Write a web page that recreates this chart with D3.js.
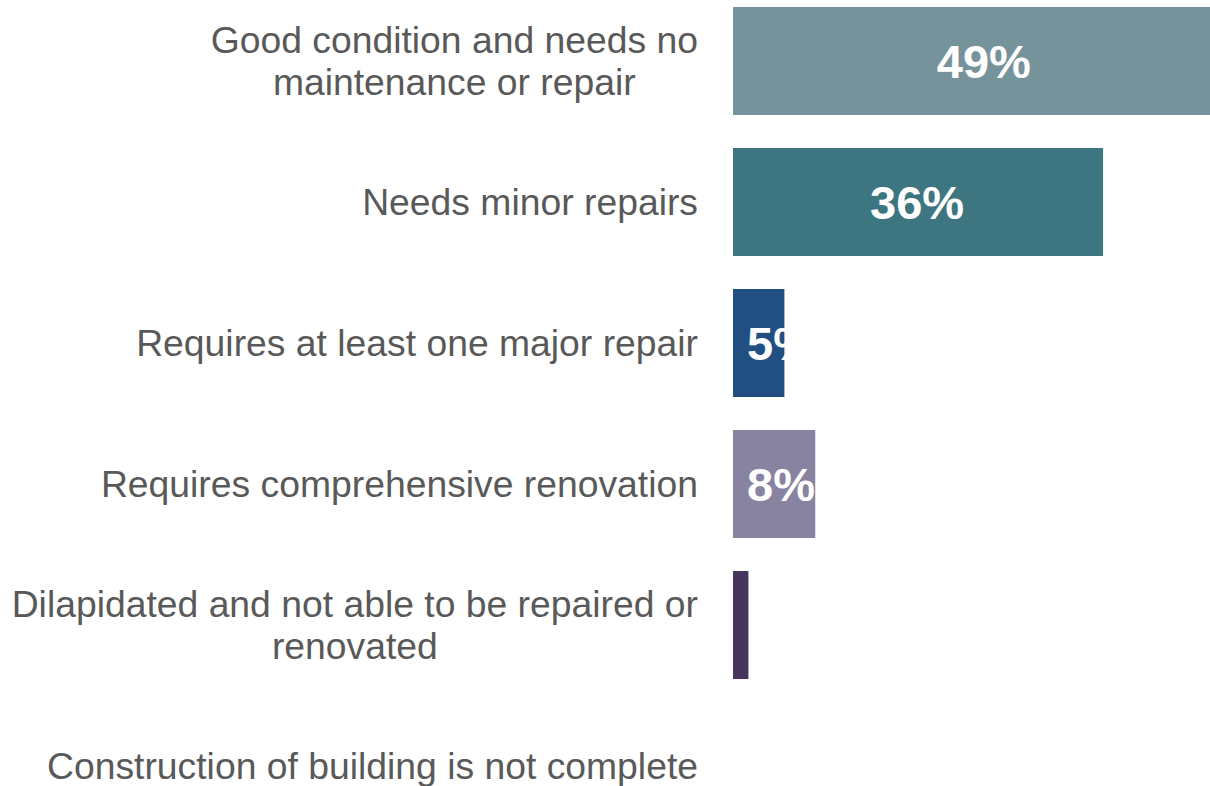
<!DOCTYPE html>
<html>
<head>
<meta charset="utf-8">
<script src="https://cdn.jsdelivr.net/npm/d3@7"></script>
<style>
  html, body { margin: 0; padding: 0; background: #ffffff; }
  svg { display: block; }
</style>
</head>
<body>
<svg id="chart" width="1210" height="786"></svg>
<script>
// Building condition, share of responses
const categories = [
  "Good condition and needs no maintenance or repair",
  "Needs minor repairs",
  "Requires at least one major repair",
  "Requires comprehensive renovation",
  "Dilapidated and not able to be repaired or renovated",
  "Construction of building is not complete"
];
const values = [49, 36, 5, 8, 1.5, 0];
const showValue = [true, true, true, true, false, false];
const colors = ["#76939c", "#3d7680", "#214f81", "#8883a0", "#47355e", "#8a8a8a"];

const width = 1210, height = 786;
const barLeft = 733;
const labelRight = 698;
const wrapWidth = 700;

const svg = d3.select("#chart");

const x = d3.scaleLinear()
  .domain([0, 50])
  .range([barLeft, barLeft + 514]);

const y = d3.scaleBand()
  .domain(categories)
  .range([-9.5, 836.5])
  .paddingInner(0.234)
  .paddingOuter(0.117);

// Bars
svg.append("g")
  .selectAll("rect")
  .data(categories)
  .join("rect")
  .attr("x", x(0))
  .attr("y", d => y(d))
  .attr("width", (d, i) => x(values[i]) - x(0))
  .attr("height", y.bandwidth())
  .attr("fill", (d, i) => colors[i]);

// Value labels, centred in the bar but kept off the bar's start
const fmt = v => d3.format(".0f")(v) + "%";
const vg = svg.append("g");
categories.forEach((c, i) => {
  if (!showValue[i]) return;
  const t = vg.append("text")
    .attr("font-family", "'Liberation Sans', Arial, sans-serif")
    .attr("font-weight", "bold")
    .attr("font-size", 47)
    .attr("fill", "#ffffff")
    .attr("dy", "0.36em")
    .attr("y", y(c) + y.bandwidth() / 2)
    .text(fmt(values[i]));
  const w = t.node().getComputedTextLength();
  const cx = (x(0) + x(values[i])) / 2;
  const left = Math.max(cx - w / 2, x(0) + 15);
  t.attr("x", left - 1).attr("text-anchor", "start");
});

// Category labels: wrapped, lines centred within a right-aligned block
const lg = svg.append("g")
  .attr("font-family", "'Liberation Sans', Arial, sans-serif")
  .attr("font-size", 37.3)
  .attr("fill", "#595959");

const lineHeight = 42;
categories.forEach(c => {
  const t = lg.append("text");
  const measure = s => { t.text(s); return t.node().getComputedTextLength(); };
  const words = c.split(" ");
  const lines = [];
  let cur = "";
  words.forEach(wd => {
    const test = cur ? cur + " " + wd : wd;
    if (cur && measure(test) > wrapWidth) { lines.push(cur); cur = wd; }
    else cur = test;
  });
  if (cur) lines.push(cur);
  const widths = lines.map(measure);
  t.text(null);
  const blockW = d3.max(widths);
  const cxText = labelRight - blockW / 2;
  const cy = y(c) + y.bandwidth() / 2;
  const firstY = cy - (lines.length - 1) * lineHeight / 2;
  lines.forEach((ln, k) => {
    t.append("tspan")
      .attr("x", cxText)
      .attr("y", firstY + k * lineHeight)
      .attr("dy", "0.35em")
      .attr("text-anchor", "middle")
      .text(ln);
  });
});
</script>
</body>
</html>
